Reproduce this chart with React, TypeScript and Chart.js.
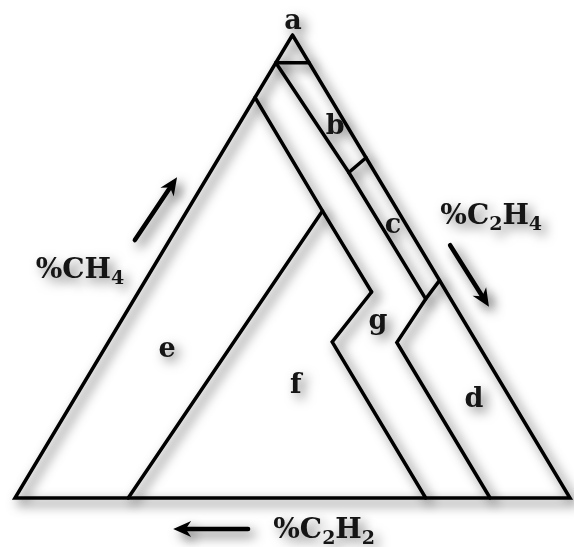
import React, { useEffect, useRef } from "react";
import { Chart, registerables } from "chart.js";

Chart.register(...registerables);

// Zone boundaries of the gas triangle. Each point is [%C2H4, %C2H2];
// %CH4 is whatever is left of 100.
type Tern = [number, number];
const outerTriangle: Tern[] = [[0, 0], [100, 0], [0, 100], [0, 0]];
const pdLimit: Tern[] = [[0, 6], [6, 0]];
const lowAcetyleneLimit: Tern[] = [[0, 6], [25, 4.7], [52.5, 4.5]];
const t1t2Limit: Tern[] = [[26.5, 0], [25, 4.7]];
const t3Limit: Tern[] = [[53, 0], [52.5, 4.5], [52, 14.4], [85.6, 14.4]];
const d1Limit: Tern[] = [[0, 13.5], [24.4, 13.6], [42, 13.5]];
const d1d2Limit: Tern[] = [[24.4, 13.6], [20.4, 79.6]];
const d2Limit: Tern[] = [[42, 13.5], [40.3, 26], [74, 26]];

const boundaries: Tern[][] = [
  outerTriangle,
  pdLimit,
  lowAcetyleneLimit,
  t1t2Limit,
  t3Limit,
  d1Limit,
  d1d2Limit,
  d2Limit,
];

// Zone letters and where they sit, in the plot's x/y units
const zoneLetters = ["a", "b", "c", "d", "e", "f", "g"];
const zoneSpots: [number, number][] = [
  [50.1, 102.8],
  [57.7, 80.1],
  [68.1, 58.8],
  [82.7, 21.2],
  [27.4, 32.0],
  [50.6, 24.2],
  [65.4, 38.0],
];

// Axis captions: pieces of text, the second flag marks a subscript
type Piece = [string, boolean];
const axisCaptions: Piece[][] = [
  [["%CH", false], ["4", true]],
  [["%C", false], ["2", true], ["H", false], ["4", true]],
  [["%C", false], ["2", true], ["H", false], ["2", true]],
];
const captionSpots: [number, number][] = [
  [11.7, 49.8],
  [85.8, 61.3],
  [55.7, -6.5],
];
// Direction arrows: tail then head, in the plot's x/y units
const arrowSpots: [number, number, number, number][] = [
  [21.6, 55.7, 29.2, 69.3],
  [78.4, 54.6, 85.4, 41.3],
  [42.0, -6.7, 28.5, -6.7],
];

const toXY = ([c2h4, c2h2]: Tern) => {
  const ch4 = 100 - c2h4 - c2h2;
  return { x: c2h4 + ch4 / 2, y: ch4 };
};

const FONT = '"DejaVu Serif", "Liberation Serif", serif';

function drawPieces(ctx: CanvasRenderingContext2D, pieces: Piece[], cx: number, cy: number, size: number) {
  const subSize = Math.round(size * 0.68);
  let total = 0;
  const widths = pieces.map(([t, sub]) => {
    ctx.font = `bold ${sub ? subSize : size}px ${FONT}`;
    const w = ctx.measureText(t).width;
    total += w;
    return w;
  });
  let x = cx - total / 2;
  ctx.textAlign = "left";
  ctx.textBaseline = "alphabetic";
  const base = cy + size * 0.36;
  pieces.forEach(([t, sub], i) => {
    ctx.font = `bold ${sub ? subSize : size}px ${FONT}`;
    ctx.fillText(t, x, sub ? base + size * 0.22 : base);
    x += widths[i];
  });
}

function drawArrow(ctx: CanvasRenderingContext2D, x0: number, y0: number, x1: number, y1: number) {
  const ang = Math.atan2(y1 - y0, x1 - x0);
  const len = 18;
  const half = 8;
  const bx = x1 - len * Math.cos(ang);
  const by = y1 - len * Math.sin(ang);
  ctx.beginPath();
  ctx.moveTo(x0, y0);
  ctx.lineTo(bx + 4 * Math.cos(ang), by + 4 * Math.sin(ang));
  ctx.lineWidth = 4.5;
  ctx.lineCap = "round";
  ctx.strokeStyle = "#000";
  ctx.stroke();
  ctx.beginPath();
  ctx.moveTo(x1, y1);
  ctx.lineTo(bx + half * Math.sin(ang), by - half * Math.cos(ang));
  ctx.lineTo(bx + len * 0.3 * Math.cos(ang), by + len * 0.3 * Math.sin(ang));
  ctx.lineTo(bx - half * Math.sin(ang), by + half * Math.cos(ang));
  ctx.closePath();
  ctx.fillStyle = "#000";
  ctx.fill();
}

const shadowAndText = {
  id: "shadowAndText",
  beforeDatasetsDraw(chart: Chart) {
    const ctx = chart.ctx;
    ctx.save();
    ctx.shadowColor = "rgba(0,0,0,0.7)";
    ctx.shadowBlur = 12;
    ctx.shadowOffsetX = 5;
    ctx.shadowOffsetY = 5;
  },
  afterDatasetsDraw(chart: Chart) {
    const ctx = chart.ctx;
    const sx = chart.scales.x;
    const sy = chart.scales.y;
    const px = (v: number) => sx.getPixelForValue(v);
    const py = (v: number) => sy.getPixelForValue(v);
    ctx.shadowColor = "rgba(0,0,0,0.55)";
    ctx.fillStyle = "#151515";
    ctx.textAlign = "center";
    ctx.textBaseline = "middle";
    ctx.font = `bold 27px ${FONT}`;
    zoneLetters.forEach((l, i) => {
      ctx.fillText(l, px(zoneSpots[i][0]), py(zoneSpots[i][1]));
    });
    axisCaptions.forEach((pieces, i) => {
      ctx.fillStyle = "#151515";
      drawPieces(ctx, pieces, px(captionSpots[i][0]), py(captionSpots[i][1]), 28);
    });
    ctx.shadowColor = "rgba(0,0,0,0.7)";
    arrowSpots.forEach(([a, b, c, d]) => drawArrow(ctx, px(a), py(b), px(c), py(d)));
    ctx.restore();
  },
};

export default function App() {
  const ref = useRef<HTMLCanvasElement>(null);
  useEffect(() => {
    if (!ref.current) return;
    const chart = new Chart(ref.current, {
      type: "scatter",
      data: {
        datasets: boundaries.map((line) => ({
          data: line.map(toXY),
          showLine: true,
          borderColor: "#000",
          borderWidth: 3.5,
          pointRadius: 0,
          borderJoinStyle: "miter" as const,
          borderCapStyle: "round" as const,
          fill: false,
          tension: 0,
        })),
      },
      options: {
        animation: false,
        responsive: false,
        layout: { padding: 0 },
        scales: {
          x: { type: "linear", min: -2.7, max: 100.72, display: false },
          y: { type: "linear", min: -10.58, max: 107.56, display: false },
        },
        plugins: { legend: { display: false }, tooltip: { enabled: false } },
      },
      plugins: [shadowAndText],
    });
    return () => chart.destroy();
  }, []);
  return (
    <div style={{ position: "fixed", left: 0, top: 0, width: 574, height: 547, background: "#fff" }}>
      <canvas ref={ref} width={574} height={547} />
    </div>
  );
}
